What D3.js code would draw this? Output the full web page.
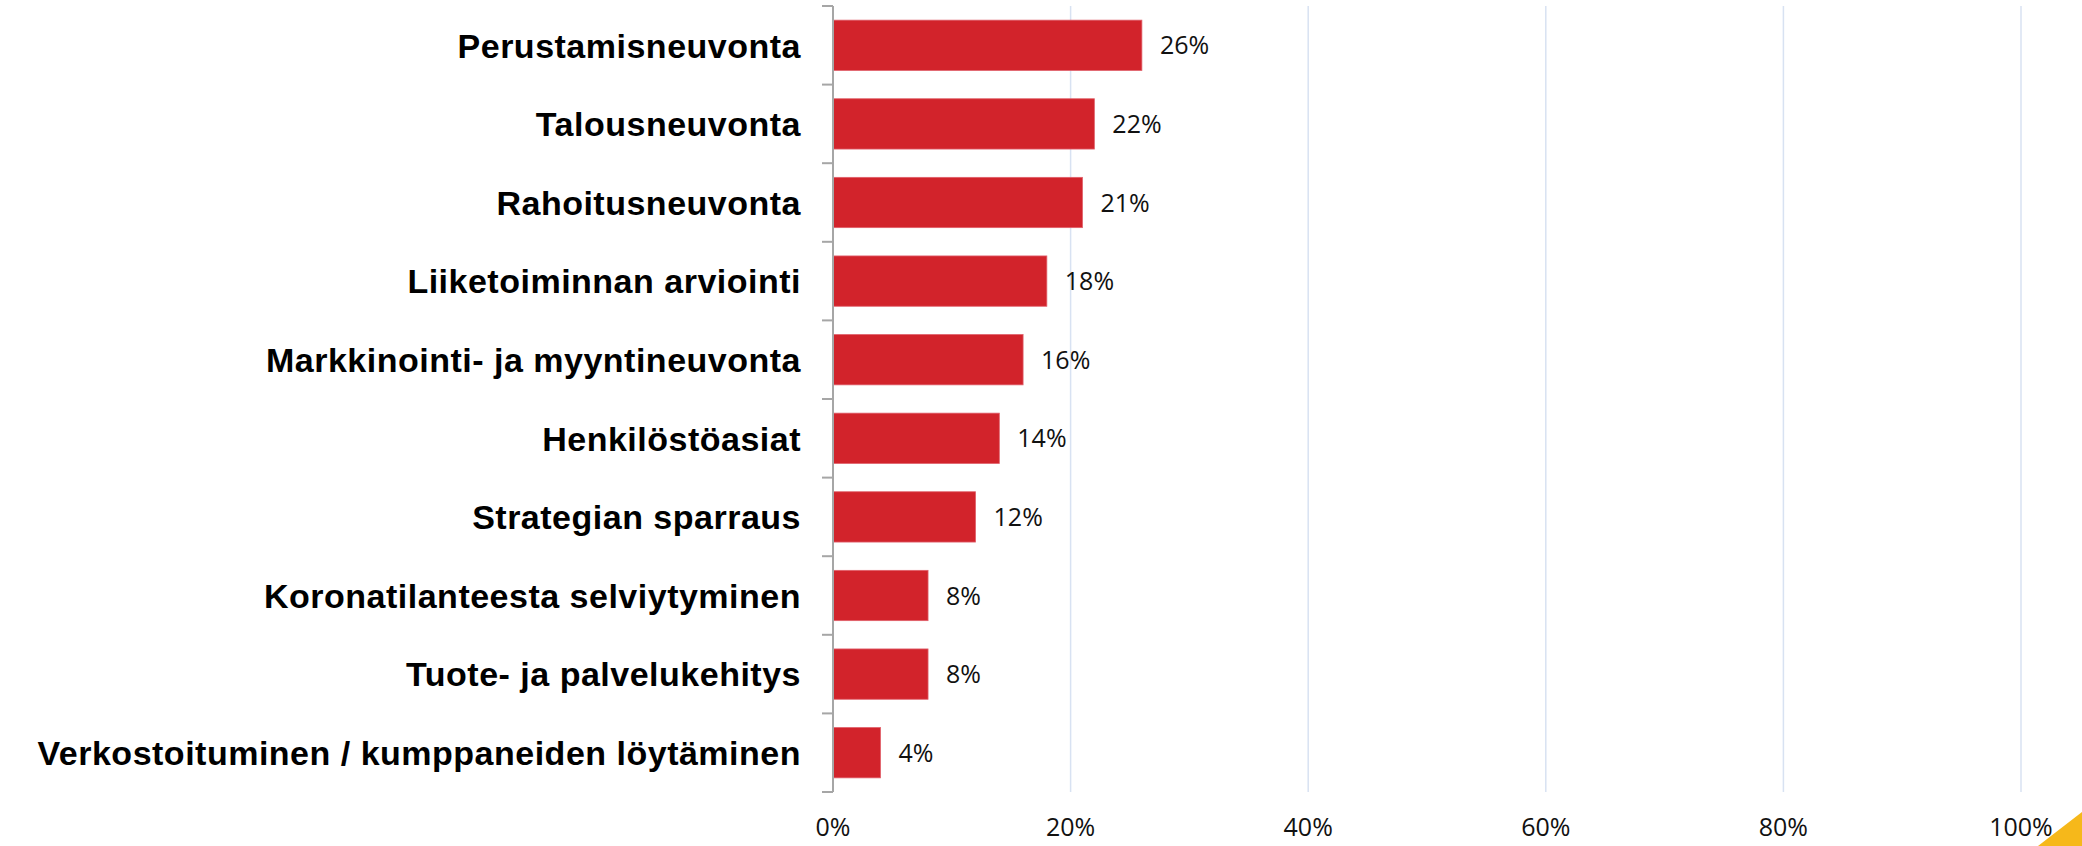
<!DOCTYPE html>
<html>
<head>
<meta charset="utf-8">
<script src="https://cdn.jsdelivr.net/npm/d3@7"></script>
<style>
  html, body { margin: 0; padding: 0; background: #ffffff; }
  svg { display: block; }
</style>
</head>
<body>
<svg id="chart" width="2082" height="846"></svg>
<script>
const categories = [
  "Perustamisneuvonta",
  "Talousneuvonta",
  "Rahoitusneuvonta",
  "Liiketoiminnan arviointi",
  "Markkinointi- ja myyntineuvonta",
  "Henkilöstöasiat",
  "Strategian sparraus",
  "Koronatilanteesta selviytyminen",
  "Tuote- ja palvelukehitys",
  "Verkostoituminen / kumppaneiden löytäminen"
];
const values = [26, 22, 21, 18, 16, 14, 12, 8, 8, 4];
const xTicks = [0, 20, 40, 60, 80, 100];
const xTickLabels = ["0%", "20%", "40%", "60%", "80%", "100%"];

(function () {
const svg = d3.select("#chart");
const W = 2082, H = 846;
const mLeft = 833, mRight = 2021, mTop = 6, mBottom = 792;

const x = d3.scaleLinear().domain([0, 100]).range([mLeft, mRight]);
const y = d3.scaleBand().domain(categories).range([mTop, mBottom]).paddingInner(0.36).paddingOuter(0.18);

const fontVal = "'Open Sans', 'DejaVu Sans', sans-serif";
const fontCat = "'Liberation Sans', Arial, sans-serif";

// gridlines
svg.append("g")
  .selectAll("line")
  .data(xTicks.filter(d => d > 0))
  .join("line")
  .attr("x1", d => x(d)).attr("x2", d => x(d))
  .attr("y1", mTop).attr("y2", mBottom)
  .attr("stroke", "#d8e2f2").attr("stroke-width", 1.5);

// bars
svg.append("g")
  .selectAll("rect")
  .data(values)
  .join("rect")
  .attr("x", x(0))
  .attr("y", (d, i) => y(categories[i]))
  .attr("width", d => x(d) - x(0))
  .attr("height", y.bandwidth())
  .attr("fill", "#d2232b")
  .attr("stroke", "#e0606a")
  .attr("stroke-width", 0.8);

// value labels
svg.append("g")
  .selectAll("text")
  .data(values)
  .join("text")
  .attr("x", d => x(d) + 18)
  .attr("y", (d, i) => y(categories[i]) + y.bandwidth() / 2)
  .attr("dy", "0.36em")
  .attr("font-family", fontVal)
  .attr("font-size", 25)
  .attr("fill", "#111")
  .text(d => d + "%");

// y axis line and band-boundary ticks
const axisG = svg.append("g");
axisG.append("line")
  .attr("x1", mLeft).attr("x2", mLeft)
  .attr("y1", mTop).attr("y2", mBottom)
  .attr("stroke", "#a6a6a6").attr("stroke-width", 2);
const step = (mBottom - mTop) / categories.length;
const boundaries = d3.range(categories.length + 1).map(i => mTop + i * step);
axisG.selectAll("line.tick")
  .data(boundaries)
  .join("line")
  .attr("class", "tick")
  .attr("x1", mLeft - 11).attr("x2", mLeft)
  .attr("y1", d => d).attr("y2", d => d)
  .attr("stroke", "#a6a6a6").attr("stroke-width", 2);

// category labels
svg.append("g")
  .selectAll("text")
  .data(categories)
  .join("text")
  .attr("x", 801)
  .attr("y", d => y(d) + y.bandwidth() / 2)
  .attr("dy", "0.36em")
  .attr("text-anchor", "end")
  .attr("font-family", fontCat)
  .attr("font-weight", "bold")
  .attr("font-size", 34)
  .attr("letter-spacing", 0.5)
  .attr("fill", "#000")
  .text(d => d);

// x axis tick labels
svg.append("g")
  .selectAll("text")
  .data(xTicks)
  .join("text")
  .attr("x", d => x(d))
  .attr("y", 836)
  .attr("text-anchor", "middle")
  .attr("font-family", fontVal)
  .attr("font-size", 25)
  .attr("fill", "#111")
  .text((d, i) => xTickLabels[i]);

// decorative corner
svg.append("path")
  .attr("d", `M${W - 44},${H} L${W},${H - 34} L${W},${H} Z`)
  .attr("fill", "#f6b81a");
})();
</script>
</body>
</html>
